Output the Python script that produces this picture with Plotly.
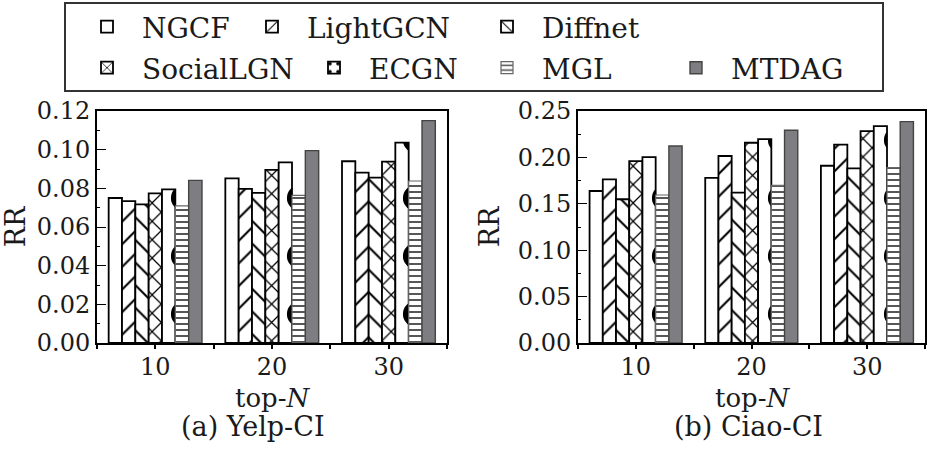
import plotly.graph_objects as go
from plotly.subplots import make_subplots

# ---------------- data ----------------
top_n = [10, 20, 30]
methods = ["NGCF", "LightGCN", "Diffnet", "SocialLGN", "ECGN", "MGL", "MTDAG"]

yelp_ngcf = [0.0750, 0.0852, 0.0940]
yelp_lightgcn = [0.0734, 0.0797, 0.0881]
yelp_diffnet = [0.0717, 0.0777, 0.0855]
yelp_sociallgn = [0.0774, 0.0895, 0.0938]
yelp_ecgn = [0.0795, 0.0934, 0.1036]
yelp_mgl = [0.0709, 0.0764, 0.0838]
yelp_mtdag = [0.0841, 0.0995, 0.1150]

ciao_ngcf = [0.1638, 0.1780, 0.1910]
ciao_lightgcn = [0.1764, 0.2015, 0.2137]
ciao_diffnet = [0.1549, 0.1620, 0.1882]
ciao_sociallgn = [0.1960, 0.2158, 0.2284]
ciao_ecgn = [0.2004, 0.2198, 0.2338]
ciao_mgl = [0.1595, 0.1700, 0.1889]
ciao_mtdag = [0.2123, 0.2292, 0.2385]

yelp_ticks = [0.00, 0.02, 0.04, 0.06, 0.08, 0.10, 0.12]
ciao_ticks = [0.00, 0.05, 0.10, 0.15, 0.20, 0.25]

yelp = [yelp_ngcf, yelp_lightgcn, yelp_diffnet, yelp_sociallgn, yelp_ecgn, yelp_mgl, yelp_mtdag]
ciao = [ciao_ngcf, ciao_lightgcn, ciao_diffnet, ciao_sociallgn, ciao_ecgn, ciao_mgl, ciao_mtdag]

# ---------------- styles ----------------
FONT = "DejaVu Serif"
INK = "#1a1a1a"


def pat(shape, size, solidity, fg="black"):
    return dict(shape=shape, size=size, solidity=solidity, fgcolor=fg,
                bgcolor="white", fgopacity=1, fillmode="replace")


styles = {
    "NGCF": dict(color="white", line=dict(color="black", width=1.8)),
    "LightGCN": dict(color="white", line=dict(color="black", width=1.8),
                     pattern=pat("/", 16, 0.13)),
    "Diffnet": dict(color="white", line=dict(color="black", width=1.8),
                    pattern=pat("\\", 16, 0.13)),
    "SocialLGN": dict(color="white", line=dict(color="black", width=1.8),
                      pattern=pat("x", 13, 0.18)),
    "ECGN": dict(color="white", line=dict(color="black", width=1.8),
                 pattern=pat(".", 58, 0.16)),
    "MGL": dict(color="white", line=dict(color="#666666", width=1.2),
                pattern=pat("-", 6, 0.3, "#444444")),
    "MTDAG": dict(color="#7d7d82", line=dict(color="#444444", width=1.4)),
}

W, H = 930, 455
ML, MR, MT, MB = 97, 5, 111, 112
PW = W - ML - MR
PH = H - MT - MB


def px_x(px):
    return (px - ML) / PW


def px_y(py):
    return (H - MB - py) / PH


fig = make_subplots(rows=1, cols=2, horizontal_spacing=0.0)

legend_names = ["legend", "legend2", "legend3", "legend4", "legend5", "legend6", "legend7"]
for i, m in enumerate(methods):
    fig.add_trace(go.Bar(x=top_n, y=yelp[i], name=m, marker=styles[m],
                         legend=legend_names[i], showlegend=True), row=1, col=1)
    fig.add_trace(go.Bar(x=top_n, y=ciao[i], name=m, marker=styles[m],
                         showlegend=False), row=1, col=2)

axis_common = dict(showline=True, linecolor="black", linewidth=2, mirror=True,
                   showgrid=False, zeroline=False, automargin=False,
                   tickfont=dict(family=FONT, size=24, color=INK))

fig.update_xaxes(**axis_common, tickmode="array", tickvals=top_n, ticktext=[str(v) for v in top_n],
                 range=[5, 35], ticks="outside", ticklen=4, tickwidth=1.5, tickcolor="black",
                 ticklabelstandoff=-3,
                 minor=dict(dtick=5, tick0=5, ticks="outside", ticklen=4, tickwidth=1.5, tickcolor="black"))

fig.update_yaxes(**axis_common, ticks="inside", ticklen=9, tickwidth=1.2, tickcolor="black",
                 title=dict(text="RR", font=dict(family=FONT, size=27, color=INK), standoff=10))
fig.update_yaxes(range=[0, 0.12], tickvals=yelp_ticks, tickformat=".2f",
                 minor=dict(dtick=0.01, ticks="inside", ticklen=3, tickwidth=1, tickcolor="black"),
                 row=1, col=1)
fig.update_yaxes(range=[0, 0.25], tickvals=ciao_ticks, tickformat=".2f",
                 minor=dict(dtick=0.025, ticks="inside", ticklen=3, tickwidth=1, tickcolor="black"),
                 row=1, col=2)

fig.update_layout(xaxis=dict(domain=[0, px_x(447)]), xaxis2=dict(domain=[px_x(578), 1]))

# legends: one per entry to place them like the reference (x = where the text starts)
legend_pos = [(143, 27), (308, 27), (543, 27), (143, 68), (370, 68), (543, 68), (732, 68)]
leg_layout = {}
for name, (lx, ly) in zip(legend_names, legend_pos):
    leg_layout[name] = dict(x=px_x(lx - 71), y=px_y(ly), xanchor="left", yanchor="middle",
                            orientation="h", bgcolor="rgba(0,0,0,0)", borderwidth=0,
                            itemwidth=60, font=dict(family=FONT, size=28, color=INK))


def caption(text, cx, cy, size):
    return dict(text=text, x=px_x(cx), y=px_y(cy), xref="paper", yref="paper",
                xanchor="center", yanchor="middle", showarrow=False,
                font=dict(family=FONT, size=size, color=INK))


fig.update_layout(
    width=W, height=H,
    margin=dict(l=ML, r=MR, t=MT, b=MB, autoexpand=False),
    paper_bgcolor="white", plot_bgcolor="white",
    barmode="group", bargap=0.2, bargroupgap=0.0,
    **leg_layout,
    shapes=[dict(type="rect", xref="paper", yref="paper",
                 x0=px_x(65), x1=px_x(883), y0=px_y(91), y1=px_y(3),
                 line=dict(color="#333333", width=2), fillcolor="rgba(0,0,0,0)")],
    annotations=[
        caption("top-<i>N</i>", 273, 398, 26),
        caption("top-<i>N</i>", 753, 398, 26),
        caption("(a) Yelp-CI", 253, 426, 27),
        caption("(b) Ciao-CI", 748, 426, 27),
    ],
)

fig.write_html("out.html", config={"displayModeBar": False},
               post_script="document.body.style.margin='0';document.body.style.overflow='hidden';")
